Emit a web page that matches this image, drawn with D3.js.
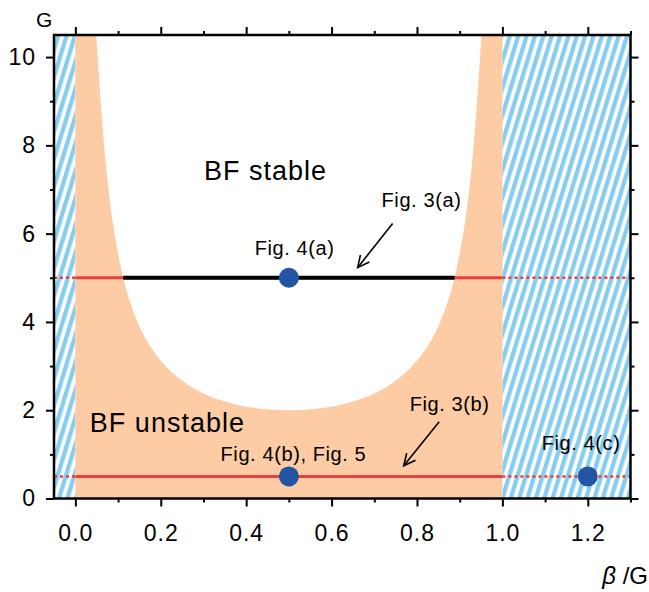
<!DOCTYPE html>
<html>
<head>
<meta charset="utf-8">
<script src="https://cdn.jsdelivr.net/npm/d3@7"></script>
<style>
  body { margin: 0; background: white; }
  text { font-family: "Liberation Sans", Arial, sans-serif; }
</style>
</head>
<body>
<div id="chart"></div>
<script>
// Stability boundary (beta/G, G)
const boundaryX = [0.049, 0.06, 0.07, 0.08, 0.09, 0.10, 0.112, 0.13, 0.15, 0.175, 0.2, 0.25, 0.3, 0.35, 0.4, 0.45, 0.5,
                   0.55, 0.6, 0.65, 0.7, 0.75, 0.8, 0.825, 0.85, 0.87, 0.888, 0.9, 0.91, 0.92, 0.93, 0.94, 0.951];
const boundaryG = [10.5, 8.9, 7.7, 6.8, 6.1, 5.55, 5.0, 4.4, 3.9, 3.45, 3.12, 2.67, 2.38, 2.2, 2.08, 2.02, 2.0,
                   2.02, 2.08, 2.2, 2.38, 2.67, 3.12, 3.45, 3.9, 4.4, 5.0, 5.55, 6.1, 6.8, 7.7, 8.9, 10.5];

// horizontal cuts and the stable part of the G = 5 cut
const cutLevels = [5, 0.5];
const stableCut = [0.112, 0.888];

// marked points
const pointX = [0.5, 0.5, 1.2];
const pointG = [5, 0.5, 0.5];

// tick labels
const xTicks = [0, 0.2, 0.4, 0.6, 0.8, 1.0, 1.2];
const xMinor = [-0.1, 0.1, 0.3, 0.5, 0.7, 0.9, 1.1, 1.3];
const yTicks = [0, 2, 4, 6, 8, 10];
const yMinor = [1, 3, 5, 7, 9];

const width = 649, height = 592;
const margin = {top: 35, right: 18.5, bottom: 93.5, left: 54};

const svg = d3.select('#chart')
              .append('svg')
              .attr('width', width)
              .attr('height', height)
              .style('background', 'white');

const xScale = d3.scaleLinear()
                 .domain([-0.05, 1.3])
                 .range([margin.left, width - margin.right]);
const yScale = d3.scaleLinear()
                 .domain([0, 10.5])
                 .range([height - margin.bottom, margin.top]);

const x0 = xScale.range()[0], x1 = xScale.range()[1];
const yTop = yScale.range()[1], yBot = yScale.range()[0];

// hatch pattern for the excluded regions
const defs = svg.append('defs');
const pat = defs.append('pattern')
                .attr('id', 'hatch')
                .attr('patternUnits', 'userSpaceOnUse')
                .attr('width', 8)
                .attr('height', 8)
                .attr('patternTransform', 'rotate(17)');
pat.append('rect').attr('width', 8).attr('height', 8).attr('fill', 'white');
pat.append('rect').attr('width', 4.3).attr('height', 8).attr('fill', '#86cdf0');

defs.append('clipPath').attr('id', 'plotclip')
    .append('rect')
    .attr('x', x0).attr('y', yTop)
    .attr('width', x1 - x0).attr('height', yBot - yTop);

const plot = svg.append('g').attr('clip-path', 'url(#plotclip)');

// hatched regions beta/G < 0 and beta/G > 1
plot.append('rect')
    .attr('x', x0).attr('y', yTop)
    .attr('width', xScale(0) - x0).attr('height', yBot - yTop)
    .attr('fill', 'url(#hatch)');
plot.append('rect')
    .attr('x', xScale(1)).attr('y', yTop)
    .attr('width', x1 - xScale(1)).attr('height', yBot - yTop)
    .attr('fill', 'url(#hatch)');

// unstable region
plot.append('rect')
    .attr('x', xScale(0)).attr('y', yTop)
    .attr('width', xScale(1) - xScale(0)).attr('height', yBot - yTop)
    .attr('fill', '#fdcba4');

// stable region above the boundary
const boundary = boundaryX.map((x, i) => ({x: x, g: boundaryG[i]}));
const area = d3.area()
               .x(d => xScale(d.x))
               .y0(yScale(10.5))
               .y1(d => yScale(d.g))
               .curve(d3.curveMonotoneX);
plot.append('path')
    .datum(boundary)
    .attr('d', area)
    .attr('fill', 'white');

// cuts: dotted outside, solid inside [0, 1]
cutLevels.forEach(g => {
    [[-0.05, 0], [1, 1.3]].forEach(seg => {
        plot.append('line')
            .attr('x1', xScale(seg[0])).attr('x2', xScale(seg[1]))
            .attr('y1', yScale(g)).attr('y2', yScale(g))
            .attr('stroke', '#e8403c')
            .attr('stroke-width', 2.5)
            .attr('stroke-dasharray', '3,3');
    });
    plot.append('line')
        .attr('x1', xScale(0)).attr('x2', xScale(1))
        .attr('y1', yScale(g)).attr('y2', yScale(g))
        .attr('stroke', '#e8403c')
        .attr('stroke-width', 3);
});
plot.append('line')
    .attr('x1', xScale(stableCut[0])).attr('x2', xScale(stableCut[1]))
    .attr('y1', yScale(5)).attr('y2', yScale(5))
    .attr('stroke', 'black')
    .attr('stroke-width', 4);

// points
svg.selectAll('circle.pt')
   .data(pointX)
   .enter()
   .append('circle')
   .attr('class', 'pt')
   .attr('cx', d => xScale(d))
   .attr('cy', (d, i) => yScale(pointG[i]))
   .attr('r', 10)
   .attr('fill', '#2455a5');

// text annotations
const notes = [
    {t: 'BF stable', x: 0.301, g: 7.21, size: 27},
    {t: 'BF unstable', x: 0.034, g: 1.51, size: 27},
    {t: 'Fig. 3(a)', x: 0.717, g: 6.6, size: 20},
    {t: 'Fig. 4(a)', x: 0.42, g: 5.52, size: 20},
    {t: 'Fig. 3(b)', x: 0.783, g: 1.99, size: 20},
    {t: 'Fig. 4(b), Fig. 5', x: 0.34, g: 0.85, size: 20},
    {t: 'Fig. 4(c)', x: 1.092, g: 1.10, size: 20}
];
svg.selectAll('text.note')
   .data(notes)
   .enter()
   .append('text')
   .attr('class', 'note')
   .attr('x', d => xScale(d.x))
   .attr('y', d => yScale(d.g))
   .style('font-size', d => d.size + 'px')
   .style('letter-spacing', d => d.size > 24 ? '1px' : '0.6px')
   .attr('fill', 'black')
   .text(d => d.t);

// arrows
const arrows = [
    {from: [0.743, 6.23], to: [0.661, 5.23]},
    {from: [0.852, 1.74], to: [0.769, 0.74]}
];
arrows.forEach(a => {
    const fx = xScale(a.from[0]), fy = yScale(a.from[1]);
    const tx = xScale(a.to[0]), ty = yScale(a.to[1]);
    const ang = Math.atan2(ty - fy, tx - fx);
    const head = 13, spread = 0.45;
    svg.append('line')
       .attr('x1', fx).attr('y1', fy).attr('x2', tx).attr('y2', ty)
       .attr('stroke', 'black').attr('stroke-width', 1.6);
    svg.append('path')
       .attr('d', `M${tx - head * Math.cos(ang - spread)},${ty - head * Math.sin(ang - spread)}L${tx},${ty}L${tx - head * Math.cos(ang + spread)},${ty - head * Math.sin(ang + spread)}`)
       .attr('fill', 'none').attr('stroke', 'black').attr('stroke-width', 1.6);
});

// axes on all four sides, ticks outward
function styleAxis(g) {
    g.select('.domain').remove();
    g.selectAll('line').attr('stroke', 'black').attr('stroke-width', 2);
}
const fmt = d3.format('.1f');

svg.append('g')
   .attr('transform', `translate(0,${yBot})`)
   .call(d3.axisBottom(xScale).tickValues(xTicks).tickSize(8).tickFormat(fmt))
   .call(styleAxis)
   .call(g => g.selectAll('text')
               .attr('y', 42).attr('dy', 0)
               .style('font-size', '23px')
               .style('letter-spacing', '1px')
               .attr('fill', 'black'));
svg.append('g')
   .attr('transform', `translate(0,${yBot})`)
   .call(d3.axisBottom(xScale).tickValues(xMinor.filter(v => v >= -0.05)).tickSize(4).tickFormat(''))
   .call(styleAxis);
svg.append('g')
   .attr('transform', `translate(0,${yTop})`)
   .call(d3.axisTop(xScale).tickValues(xTicks).tickSize(8).tickFormat(''))
   .call(styleAxis);
svg.append('g')
   .attr('transform', `translate(0,${yTop})`)
   .call(d3.axisTop(xScale).tickValues(xMinor.filter(v => v >= -0.05)).tickSize(4).tickFormat(''))
   .call(styleAxis);

svg.append('g')
   .attr('transform', `translate(${x0},0)`)
   .call(d3.axisLeft(yScale).tickValues(yTicks).tickSize(8).tickPadding(10))
   .call(styleAxis)
   .call(g => g.selectAll('text')
               .style('font-size', '23px')
               .style('letter-spacing', '1px')
               .attr('fill', 'black'));
svg.append('g')
   .attr('transform', `translate(${x0},0)`)
   .call(d3.axisLeft(yScale).tickValues(yMinor).tickSize(4).tickFormat(''))
   .call(styleAxis);
svg.append('g')
   .attr('transform', `translate(${x1},0)`)
   .call(d3.axisRight(yScale).tickValues(yTicks).tickSize(8).tickFormat(''))
   .call(styleAxis);
svg.append('g')
   .attr('transform', `translate(${x1},0)`)
   .call(d3.axisRight(yScale).tickValues(yMinor).tickSize(4).tickFormat(''))
   .call(styleAxis);

// frame
svg.append('rect')
   .attr('x', x0).attr('y', yTop)
   .attr('width', x1 - x0).attr('height', yBot - yTop)
   .attr('fill', 'none')
   .attr('stroke', 'black')
   .attr('stroke-width', 2.5);

// axis titles
svg.append('text')
   .attr('x', 36).attr('y', 27)
   .style('font-size', '21px')
   .text('G');

const xt = svg.append('text')
              .attr('x', 648).attr('y', 584)
              .style('font-size', '24px')
              .style('text-anchor', 'end');
xt.append('tspan').style('font-style', 'italic').text('β');
xt.append('tspan').text(' /G');
</script>
</body>
</html>
